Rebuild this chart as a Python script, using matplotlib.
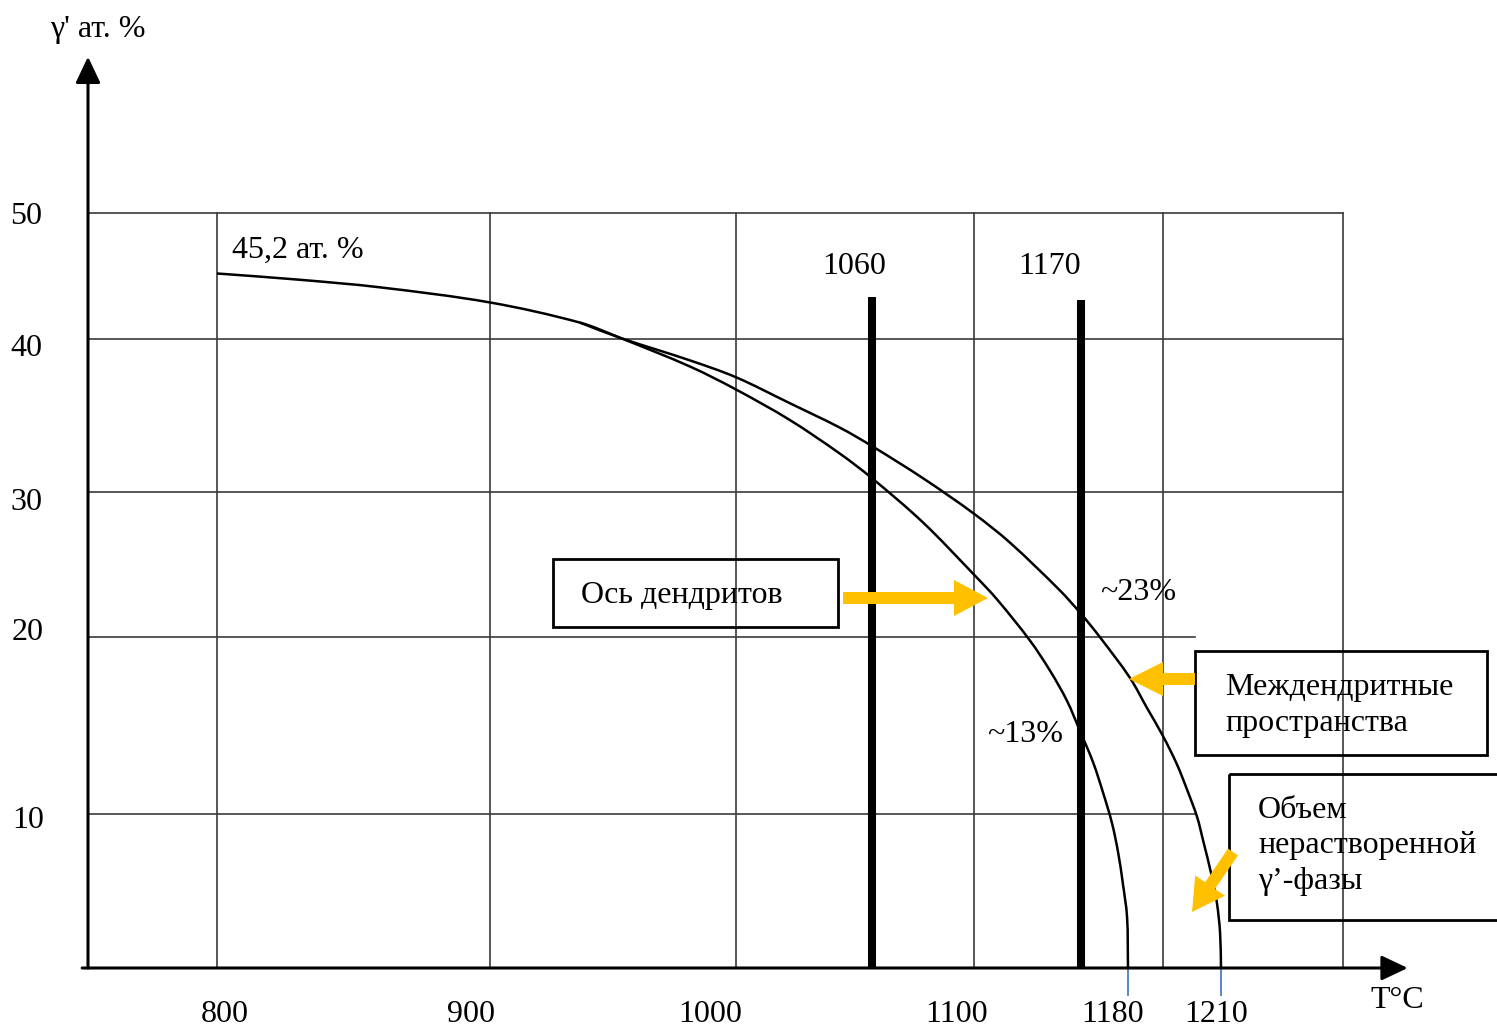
import numpy as np
import matplotlib
matplotlib.use("Agg")
import matplotlib.pyplot as plt
from matplotlib import transforms as mtransforms
from matplotlib.patches import Rectangle, FancyArrow, PathPatch
from matplotlib.path import Path

# ---------------- data ----------------
temp_tick_labels = ["800", "900", "1000", "1100", "1180", "1210"]
pct_tick_labels = ["50", "40", "30", "20", "10"]
hold_temps = [1060, 1170]
hold_tops = [43.3, 43.1]
solvus_temps = [1180, 1210]

grid_temps = [800, 900, 1000, 1100, 1191.3, 1250]
grid_pct_long = [30, 40, 50]
grid_pct_short = [10, 20]

# dendrite axis (inner curve)
axis_T = [800, 830.4, 859.7, 900, 936.6, 952.8, 981.3, 1000, 1023.8, 1045.9,
          1060, 1080.0, 1100, 1115.0, 1136.6, 1149.7, 1160.8, 1169.3,
          1172.6, 1174.7, 1176.6, 1177.9, 1178.9, 1179.8, 1180]
axis_pct = [45.2, 44.7, 44.1, 42.9, 41.3, 40.1, 38.2, 36.7, 34.7, 32.5,
            30.9, 27.9, 24.3, 22.6, 19.8, 18.1, 16.4, 14.7,
            12.9, 11.2, 9.4, 7.5, 5.5, 3.3, 0]

# interdendritic regions (outer curve)
inter_T = [936.6, 952.8, 981.3, 1000, 1023.8, 1045.9, 1060, 1080.0,
           1100, 1123.6, 1156.3, 1170, 1174.0, 1180.6, 1186.1, 1191.3,
           1195.8, 1199.0, 1202.3, 1204.2, 1207.1, 1208.7, 1209.7, 1210]
inter_pct = [41.3, 40.1, 38.6, 37.5, 35.8, 34.2, 33.0, 30.9,
             28.5, 26.5, 23.2, 21.6, 20.0, 17.7, 16.0, 14.4,
             12.8, 11.4, 9.8, 8.3, 5.9, 4.2, 2.3, 0]

# ---------------- schematic (non-uniform) axis scales ----------------
W, H = 1497, 1034
XT = [720, 750, 800, 900, 1000, 1060, 1100, 1170, 1180, 1210, 1250, 1300]
XP = [0, 88, 217, 490, 736, 872, 974, 1081, 1128, 1221, 1343, 1497]
YV = [-4.286, 0, 10, 20, 30, 40, 50, 66.9]
YP = [1034, 968, 814, 637, 492, 339, 213, 0]


def fx(t):
    return np.interp(t, XT, XP)


def ifx(p):
    return np.interp(p, XP, XT)


def fy(v):
    return H - np.interp(v, YV, YP)


def ify(q):
    return np.interp(H - np.asarray(q), YP[::-1], YV[::-1])


fig = plt.figure(figsize=(W / 100, H / 100), dpi=100)
fig.patch.set_facecolor("white")
ax = fig.add_axes([0, 0, 1, 1])
ax.set_xscale("function", functions=(fx, ifx))
ax.set_yscale("function", functions=(fy, ify))
ax.set_xlim(XT[0], XT[-1])
ax.set_ylim(YV[0], YV[-1])
ax.set_axis_off()

FONT = "Liberation Serif"
FS = 23
PX = mtransforms.Affine2D().scale(1 / W, -1 / H).translate(0, 1) + fig.transFigure


def smooth_curve(xs, ys, **kw):
    """Draw a smooth curve through the data points (chord-scaled cubic
    Bezier segments computed in display space)."""
    pts = ax.transData.transform(np.column_stack([xs, ys]))
    n = len(pts)
    tang = np.zeros_like(pts)
    for i in range(n):
        a = pts[max(i - 1, 0)]
        b = pts[min(i + 1, n - 1)]
        d = b - a
        tang[i] = d / np.hypot(*d)
    verts = [pts[0]]
    codes = [Path.MOVETO]
    for i in range(n - 1):
        L = np.hypot(*(pts[i + 1] - pts[i]))
        verts += [pts[i] + tang[i] * L / 3.0,
                  pts[i + 1] - tang[i + 1] * L / 3.0,
                  pts[i + 1]]
        codes += [Path.CURVE4] * 3
    verts = ax.transData.inverted().transform(np.array(verts))
    ax.add_patch(PathPatch(Path(verts, codes), fill=False, **kw))


gcol = "#3a3a3a"
glw = 1.2
# grid
for t in grid_temps:
    ax.plot([t, t], [0, 50], color=gcol, lw=glw, zorder=1)
for v in grid_pct_long:
    ax.plot([750, 1250], [v, v], color=gcol, lw=glw, zorder=1)
for v in grid_pct_short:
    ax.plot([750, 1201.5], [v, v], color=gcol, lw=glw, zorder=1)

# axes arrows
arrow_kw = dict(arrowstyle="-|>,head_length=0.8,head_width=0.38",
                lw=2.2, color="black", shrinkA=0, shrinkB=0, mutation_scale=20)
ax.annotate("", xy=(750, 62.4), xytext=(750, 0), arrowprops=arrow_kw, zorder=4)
ax.annotate("", xy=(1271, 0), xytext=(748, 0), arrowprops=arrow_kw, zorder=4)

# hold temperature bars
for t, top in zip(hold_temps, hold_tops):
    ax.plot([t, t], [0, top], color="black", lw=5.8, solid_capstyle="butt", zorder=3)

# curves
smooth_curve(axis_T, axis_pct, edgecolor="black", lw=1.8, zorder=3)
smooth_curve(inter_T, inter_pct, edgecolor="black", lw=1.8, zorder=3)

# blue solvus ticks
for t in solvus_temps:
    ax.plot([t, t], [0, -1.75], color="#4a7ebb", lw=1.3, zorder=3)

# ---------------- text ----------------
DY = 3


def txt(x, y, s, ha="center", va="center", size=FS):
    ax.text(x, y + DY, s, transform=PX, ha=ha, va=va, fontsize=size,
            family=FONT, color="black", zorder=6)


txt(98, 26, "γ' ат. %")
for lab, (x, y) in zip(pct_tick_labels,
                       [(26, 213), (26, 346), (26, 499), (28, 630), (28, 817)]):
    txt(x, y, lab)
for lab, x in zip(temp_tick_labels, [225, 471, 710, 957, 1113, 1216]):
    txt(x, 1012, lab)
txt(1397, 998, "T°C")
txt(232, 247, "45,2 ат. %", ha="left")
txt(854, 263, str(hold_temps[0]))
txt(1050, 263, str(hold_temps[1]))
txt(1100, 589, "~23%", ha="left")
txt(987, 731, "~13%", ha="left")

# boxes
box_kw = dict(fill=False, edgecolor="black", lw=2.0, transform=PX,
              clip_on=False, zorder=5)
ax.add_patch(Rectangle((553, 559), 285, 68, **box_kw))
ax.add_patch(Rectangle((1195, 651), 292, 104, **box_kw))
ax.add_patch(Rectangle((1229, 774), 290, 146, **box_kw))
txt(682, 593, "Ось дендритов")
txt(1225, 685, "Междендритные", ha="left")
txt(1225, 721, "пространства", ha="left")
txt(1258, 807, "Объем", ha="left")
txt(1258, 843, "нерастворенной", ha="left")
txt(1258, 879, "γ’-фазы", ha="left")

# orange arrows
orange = "#FFC000"
arr_kw = dict(length_includes_head=True, color=orange, transform=PX,
              clip_on=False, zorder=5, lw=0)
ax.add_patch(FancyArrow(843, 598, 145, 0, width=12, head_width=36,
                        head_length=34, **arr_kw))
ax.add_patch(FancyArrow(1195, 679, -66, 0, width=12, head_width=34,
                        head_length=34, **arr_kw))
ax.add_patch(FancyArrow(1233, 852, -41, 60, width=12, head_width=36,
                        head_length=32, **arr_kw))

fig.savefig("out.png", dpi=100, facecolor="white")
